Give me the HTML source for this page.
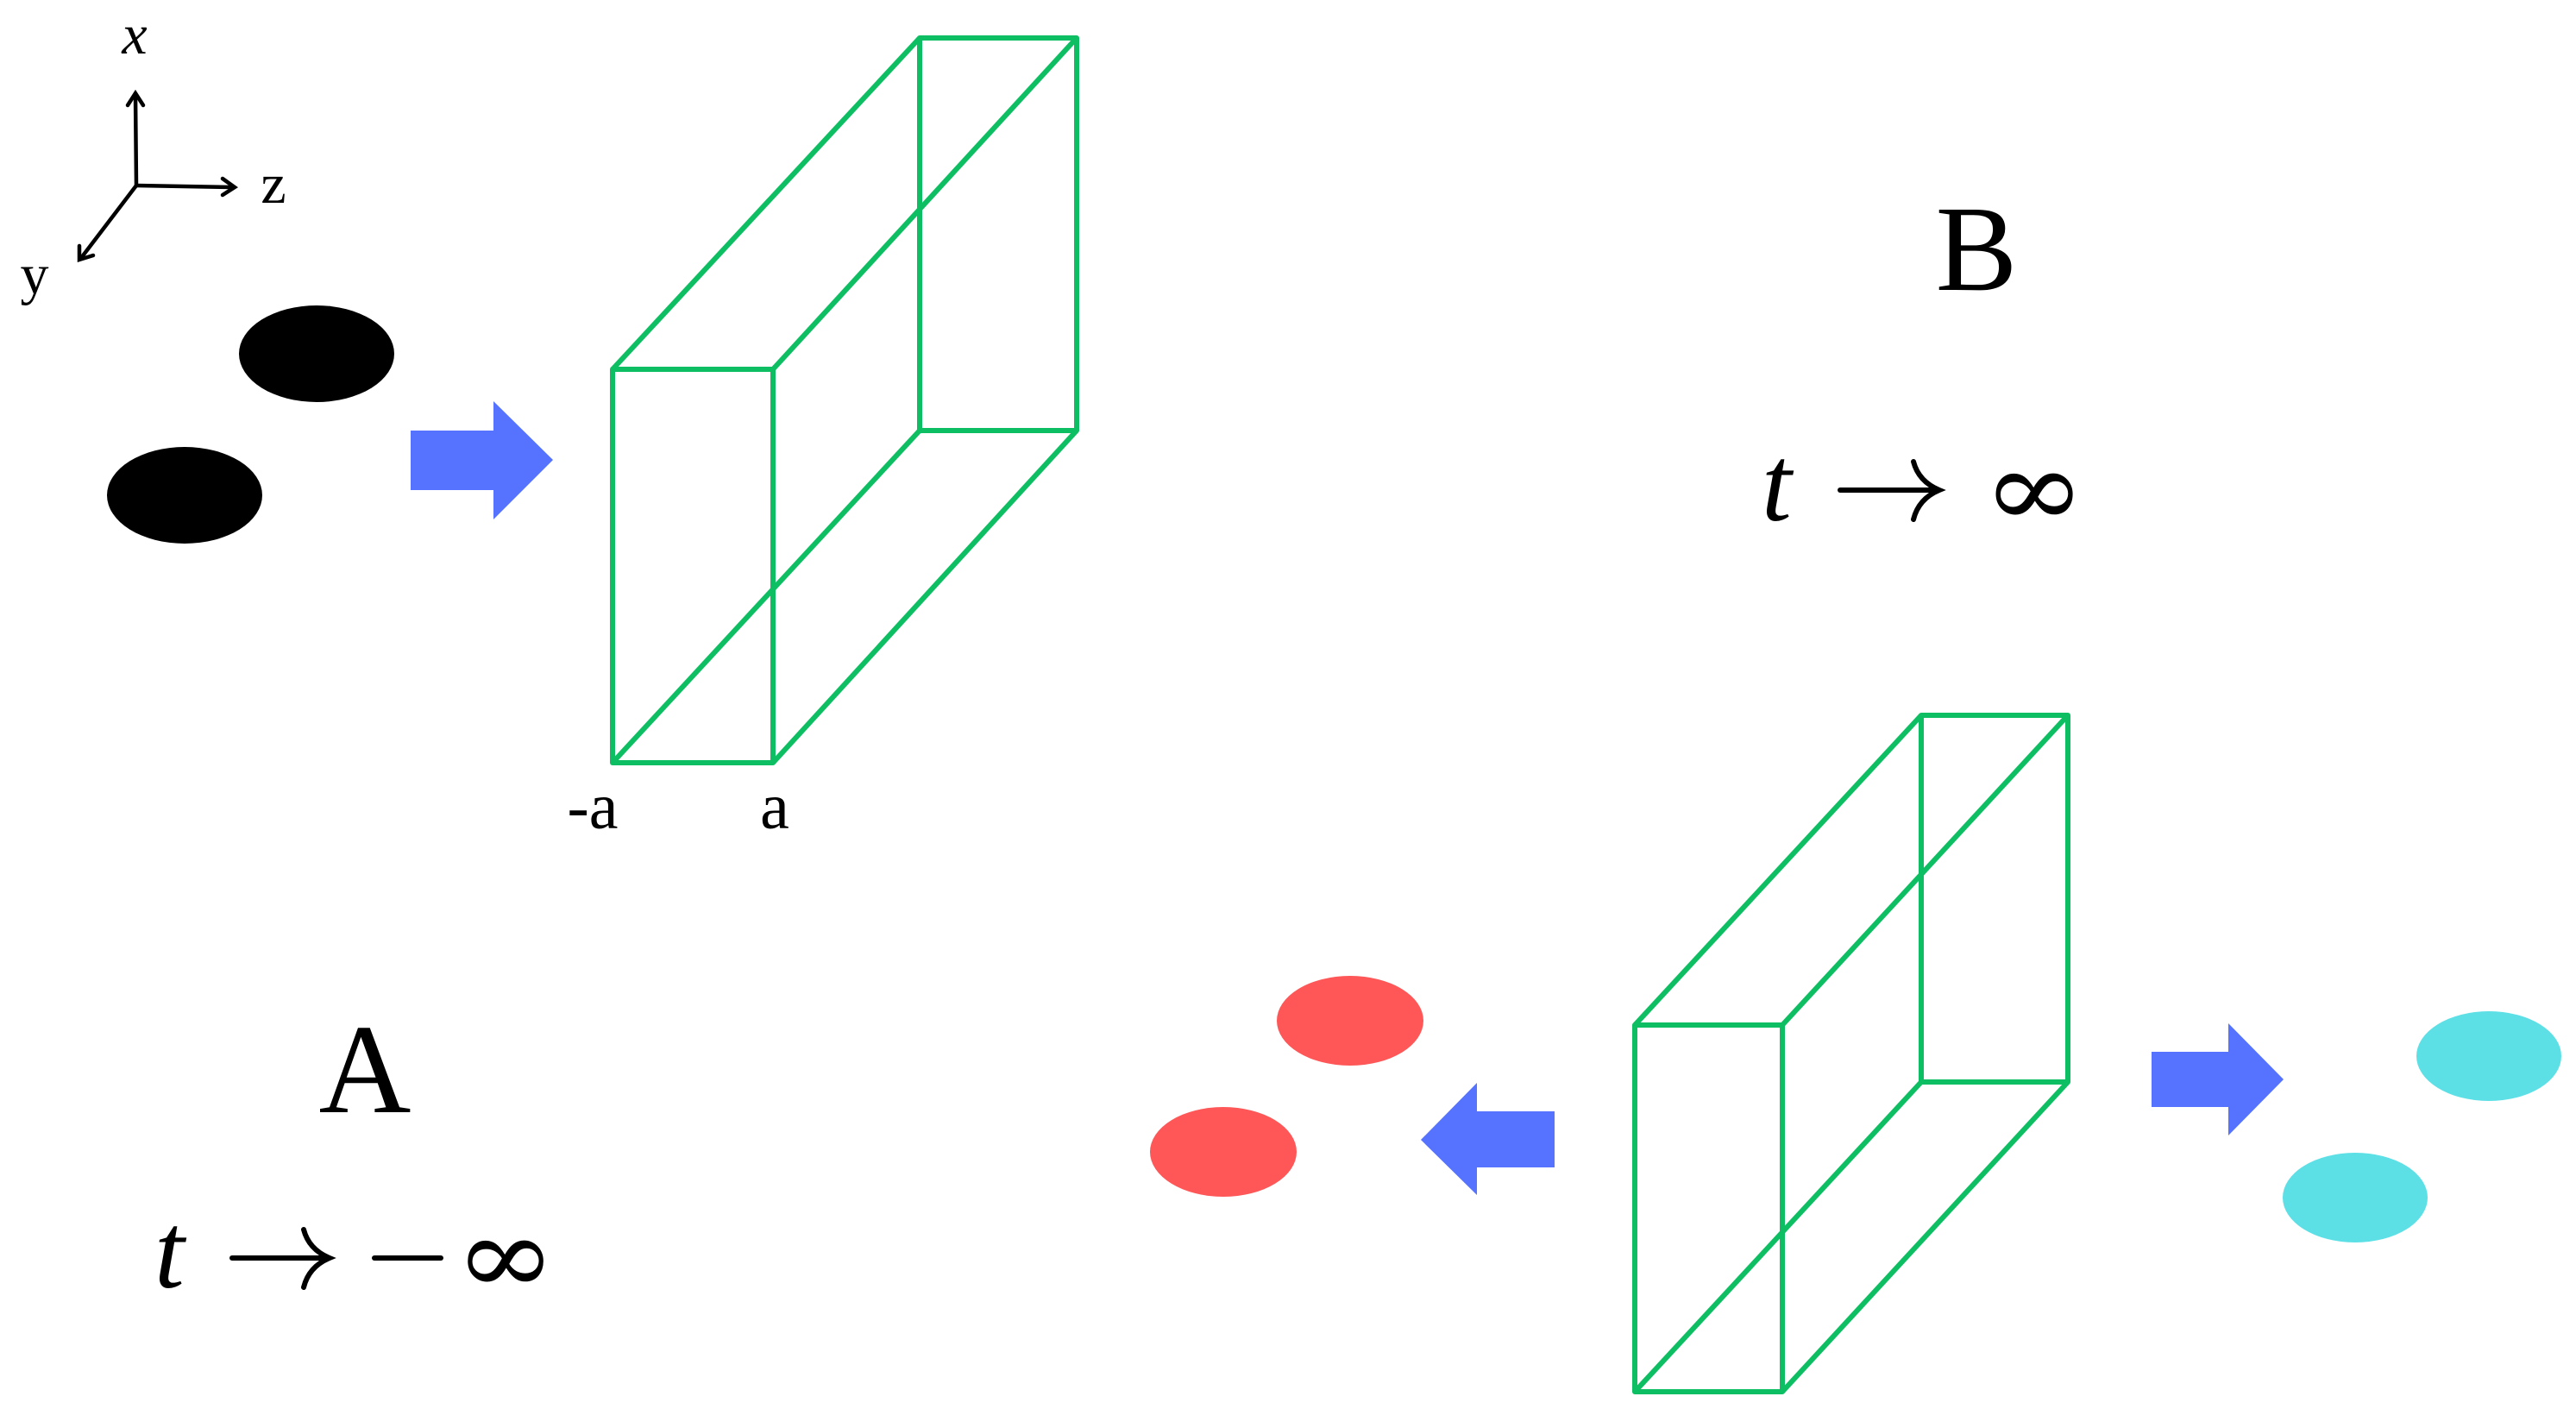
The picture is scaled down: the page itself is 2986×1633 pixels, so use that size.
<!DOCTYPE html>
<html><head><meta charset="utf-8"><style>
html,body{margin:0;padding:0;background:#fff}
svg{display:block}
</style></head><body>
<svg width="2986" height="1633" viewBox="0 0 2986 1633" xmlns="http://www.w3.org/2000/svg">
<!-- axes -->
<g stroke="#000" stroke-width="4.5" fill="none" stroke-linecap="round">
<line x1="158" y1="215" x2="157" y2="110"/>
<path d="M148,122 L157,108 L166,122"/>
<line x1="158" y1="215" x2="270" y2="217"/>
<path d="M258,207 L272,217 L258,226"/>
<line x1="158" y1="215" x2="94" y2="299"/>
<path d="M92,285 L92,301 L108,296"/>
</g>
<g font-family="'Liberation Serif', serif" fill="#000">
<text x="156" y="62" font-size="66" font-style="italic" text-anchor="middle">x</text>
<text x="317" y="235" font-size="66" text-anchor="middle">z</text>
<text x="40" y="340" font-size="66" text-anchor="middle">y</text>
<text x="687" y="960" font-size="76" text-anchor="middle">-a</text>
<text x="898" y="960" font-size="76" text-anchor="middle">a</text>
<text x="2291" y="336" font-size="142" text-anchor="middle">B</text>
<text x="423" y="1289" font-size="148" text-anchor="middle">A</text>
<text x="2042" y="603" font-size="125" font-style="italic">t</text>
<text x="179" y="1492" font-size="125" font-style="italic">t</text>
</g>
<g font-family="'DejaVu Serif', serif" fill="#000">
<text x="2298" y="610" font-size="125" textLength="120" lengthAdjust="spacingAndGlyphs">∞</text>
<text x="527" y="1499" font-size="125" textLength="118" lengthAdjust="spacingAndGlyphs">∞</text>
</g>
<g stroke="#000" stroke-width="6" fill="none" stroke-linecap="round">
<line x1="2133" y1="568" x2="2246" y2="568"/>
<path d="M2218,535 Q2224,558 2248,568 Q2224,578 2218,602"/>
<line x1="269" y1="1458" x2="380" y2="1458"/>
<path d="M352,1425 Q358,1448 382,1458 Q358,1468 352,1492"/>
<line x1="434" y1="1458" x2="511" y2="1458"/>
</g>
<!-- black ellipses -->
<ellipse cx="367" cy="410" rx="90" ry="56" fill="#000"/>
<ellipse cx="214" cy="574" rx="90" ry="56" fill="#000"/>
<!-- arrow 1 -->
<polygon points="476,499 572,499 572,465 641,533 572,602 572,568 476,568" fill="#5573ff"/>
<!-- box 1 -->
<g stroke="#0dbf62" stroke-width="6" fill="none" stroke-linejoin="round">
<rect x="710" y="428" width="186" height="456"/>
<rect x="1066" y="44" width="182" height="455"/>
<line x1="710" y1="428" x2="1066" y2="44"/>
<line x1="896" y1="428" x2="1248" y2="44"/>
<line x1="710" y1="884" x2="1066" y2="499"/>
<line x1="896" y1="884" x2="1248" y2="499"/>
</g>
<!-- box 2 -->
<g stroke="#0dbf62" stroke-width="6" fill="none" stroke-linejoin="round">
<rect x="1895" y="1188" width="171" height="425"/>
<rect x="2227" y="829" width="170" height="425"/>
<line x1="1895" y1="1188" x2="2227" y2="829"/>
<line x1="2066" y1="1188" x2="2397" y2="829"/>
<line x1="1895" y1="1613" x2="2227" y2="1254"/>
<line x1="2066" y1="1613" x2="2397" y2="1254"/>
</g>
<!-- red -->
<ellipse cx="1565" cy="1183" rx="85" ry="52" fill="#ff5757"/>
<ellipse cx="1418" cy="1335" rx="85" ry="52" fill="#ff5757"/>
<!-- left arrow -->
<polygon points="1802,1288 1712,1288 1712,1255 1647,1321 1712,1385 1712,1353 1802,1353" fill="#5573ff"/>
<!-- right arrow -->
<polygon points="2494,1219 2583,1219 2583,1186 2647,1251 2583,1316 2583,1283 2494,1283" fill="#5573ff"/>
<!-- cyan -->
<ellipse cx="2885" cy="1224" rx="84" ry="52" fill="#5ce0e6"/>
<ellipse cx="2730" cy="1388" rx="84" ry="52" fill="#5ce0e6"/>
</svg>
</body></html>
